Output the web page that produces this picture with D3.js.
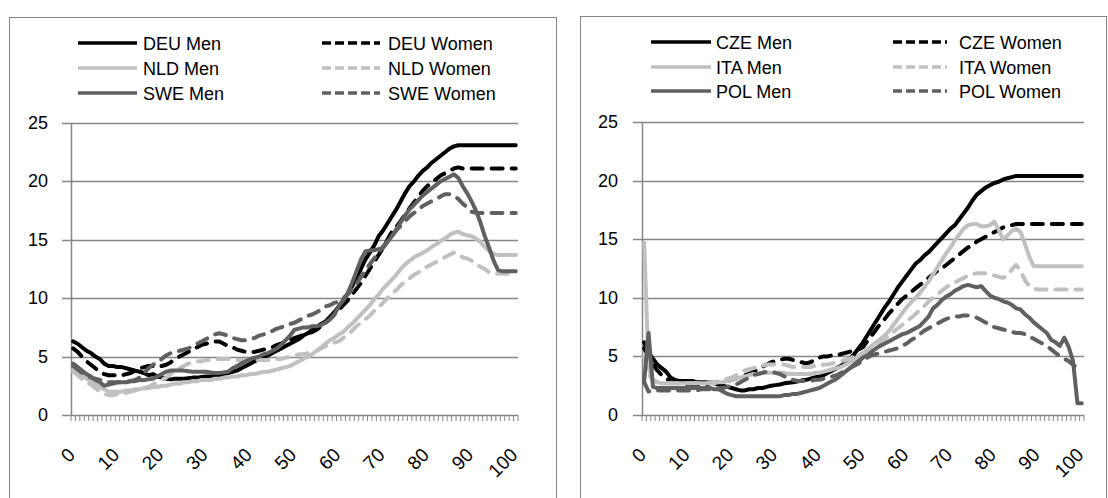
<!DOCTYPE html>
<html>
<head>
<meta charset="utf-8">
<script src="https://cdn.jsdelivr.net/npm/d3@7/dist/d3.min.js"></script>
<style>
  html, body { margin: 0; padding: 0; background: #fff; }
  svg { display: block; }
  text { font-family: "Liberation Sans", Arial, sans-serif; fill: #000; }
</style>
</head>
<body>
<svg id="chart" width="1108" height="498"></svg>
<script>
// Ages 0..100 on the category axis
const ages = d3.range(0, 101);
const yTicks = [0, 5, 10, 15, 20, 25];
const xTickLabels = [0, 10, 20, 30, 40, 50, 60, 70, 80, 90, 100];

// Left panel series
const deuMen = [
  6.3,6.1,5.8,5.5,5.3,5.0,4.8,4.4,4.2,4.2,
  4.1,4.1,4.0,3.9,3.8,3.7,3.6,3.4,3.5,3.3,
  3.2,3.1,3.05,3.1,3.1,3.1,3.15,3.2,3.2,3.25,
  3.3,3.3,3.35,3.4,3.5,3.6,3.7,3.8,4.0,4.2,
  4.4,4.6,4.8,5.0,5.1,5.3,5.5,5.7,5.9,6.1,
  6.3,6.5,6.8,7.0,7.3,7.5,7.8,8.0,8.4,8.8,
  9.3,9.8,10.4,11.0,11.8,12.5,13.3,13.9,14.5,15.3,
  15.8,16.4,17.0,17.6,18.3,19.0,19.6,20.0,20.5,20.9,
  21.2,21.6,21.9,22.2,22.5,22.8,23.0,23.1,23.1,23.1,
  23.1,23.1,23.1,23.1,23.1,23.1,23.1,23.1,23.1,23.1,
  23.1
];
const deuWomen = [
  5.7,5.4,5.0,4.6,4.3,4.0,3.7,3.5,3.4,3.4,
  3.4,3.4,3.5,3.6,3.8,4.0,4.1,4.2,4.2,4.1,
  4.2,4.3,4.5,4.8,5.0,5.2,5.4,5.6,5.8,6.0,
  6.1,6.2,6.3,6.3,6.1,5.9,5.8,5.6,5.5,5.4,
  5.4,5.4,5.5,5.6,5.7,5.8,6.0,6.1,6.3,6.4,
  6.6,6.7,6.9,7.0,7.1,7.3,7.6,7.9,8.2,8.6,
  9.0,9.4,9.8,10.3,10.8,11.3,11.9,12.5,13.1,13.7,
  14.3,15.0,15.7,16.1,16.6,17.2,17.7,18.2,18.7,19.2,
  19.6,19.9,20.2,20.5,20.7,20.9,21.1,21.2,21.1,21.1,
  21.1,21.1,21.1,21.1,21.1,21.1,21.1,21.1,21.1,21.1,
  21.1
];
const nldMen = [
  3.9,3.6,3.4,3.1,2.9,2.6,2.4,2.2,2.0,2.0,
  2.0,2.0,2.1,2.1,2.2,2.2,2.3,2.3,2.4,2.4,
  2.5,2.5,2.6,2.7,2.7,2.8,2.8,2.9,2.9,3.0,
  3.0,3.0,3.1,3.1,3.2,3.2,3.3,3.3,3.4,3.4,
  3.5,3.5,3.6,3.7,3.7,3.8,3.9,4.0,4.1,4.2,
  4.4,4.6,4.8,5.0,5.2,5.5,5.8,6.1,6.4,6.6,
  6.9,7.1,7.5,7.8,8.2,8.6,9.0,9.4,9.9,10.3,
  10.8,11.2,11.6,12.0,12.5,12.9,13.2,13.5,13.7,13.9,
  14.1,14.4,14.6,14.9,15.1,15.4,15.6,15.7,15.5,15.4,
  15.3,15.1,14.8,14.4,14.0,13.8,13.7,13.7,13.7,13.7,
  13.7
];
const nldWomen = [
  3.7,3.4,3.1,2.8,2.6,2.3,2.0,1.8,1.7,1.7,
  1.8,1.8,1.9,2.0,2.1,2.2,2.3,2.4,2.6,2.8,
  3.0,3.2,3.5,3.8,4.0,4.2,4.4,4.5,4.6,4.6,
  4.7,4.7,4.8,4.8,4.8,4.8,4.8,4.7,4.7,4.7,
  4.7,4.7,4.7,4.7,4.7,4.7,4.8,4.8,4.9,5.0,
  5.1,5.2,5.2,5.3,5.4,5.5,5.7,5.9,6.0,6.2,
  6.3,6.6,6.9,7.2,7.6,7.9,8.2,8.5,8.9,9.2,
  9.6,10.0,10.4,10.7,11.1,11.4,11.7,12.0,12.2,12.5,
  12.7,12.9,13.1,13.3,13.5,13.7,13.9,13.8,13.5,13.4,
  13.2,12.9,12.7,12.5,12.2,12.1,12.1,12.1,12.1,12.1,
  12.1
];
const sweMen = [
  4.4,4.1,3.8,3.5,3.3,3.0,2.8,2.5,2.6,2.7,
  2.8,2.8,2.8,2.9,2.9,3.0,3.0,3.05,3.1,3.3,
  3.5,3.7,3.8,3.8,3.8,3.8,3.75,3.7,3.7,3.7,
  3.7,3.65,3.6,3.6,3.65,3.7,4.0,4.2,4.4,4.6,
  4.8,4.9,5.0,5.2,5.3,5.5,5.7,6.0,6.4,6.8,
  7.3,7.4,7.5,7.5,7.6,7.6,7.7,7.9,8.2,8.6,
  9.3,9.8,10.4,11.3,12.3,13.3,14.0,14.1,14.1,14.2,
  14.3,14.8,15.3,15.9,16.5,17.1,17.6,18.0,18.4,18.8,
  19.1,19.4,19.7,20.0,20.2,20.4,20.6,20.3,19.6,19.0,
  18.3,17.5,16.5,15.3,14.3,13.2,12.4,12.3,12.3,12.3,
  12.3
];
const sweWomen = [
  4.2,3.9,3.6,3.4,3.2,3.1,3.0,2.9,2.8,2.8,
  2.8,2.8,2.9,2.9,3.0,3.2,3.6,4.0,4.3,4.5,
  4.8,5.1,5.3,5.4,5.5,5.6,5.7,5.9,6.1,6.3,
  6.5,6.7,6.9,7.0,6.9,6.8,6.6,6.5,6.4,6.4,
  6.5,6.6,6.8,6.9,7.1,7.2,7.4,7.5,7.7,7.8,
  7.9,8.1,8.3,8.5,8.6,8.8,9.0,9.3,9.4,9.6,
  9.7,10.0,10.3,10.7,11.2,11.8,12.4,12.9,13.4,13.9,
  14.4,14.9,15.3,15.8,16.2,16.6,17.0,17.3,17.6,17.9,
  18.1,18.3,18.5,18.7,18.9,18.9,18.8,18.5,18.1,17.8,
  17.4,17.3,17.3,17.3,17.3,17.3,17.3,17.3,17.3,17.3,
  17.3
];

// Right panel series
const czeMen = [
  6.2,5.3,4.8,4.3,4.0,3.7,3.2,3.0,2.9,2.9,
  2.9,2.9,2.8,2.8,2.8,2.8,2.7,2.6,2.5,2.4,
  2.3,2.2,2.1,2.1,2.2,2.2,2.3,2.3,2.4,2.5,
  2.55,2.6,2.7,2.75,2.8,2.85,2.95,3.0,3.1,3.2,
  3.3,3.4,3.6,3.8,4.0,4.2,4.5,4.8,5.2,5.7,
  6.2,6.8,7.4,8.0,8.6,9.2,9.7,10.3,10.9,11.4,
  11.9,12.4,12.9,13.2,13.6,13.9,14.3,14.7,15.1,15.5,
  15.9,16.2,16.7,17.2,17.7,18.3,18.8,19.1,19.4,19.6,
  19.8,19.9,20.1,20.2,20.3,20.4,20.4,20.4,20.4,20.4,
  20.4,20.4,20.4,20.4,20.4,20.4,20.4,20.4,20.4,20.4,
  20.4
];
const czeWomen = [
  5.7,5.0,4.3,3.8,3.4,3.1,2.9,2.8,2.7,2.7,
  2.6,2.6,2.6,2.6,2.6,2.7,2.8,2.8,2.9,2.9,
  3.0,3.1,3.3,3.4,3.5,3.7,3.9,4.1,4.3,4.5,
  4.6,4.7,4.8,4.8,4.7,4.6,4.5,4.4,4.5,4.7,
  4.9,5.0,5.0,5.1,5.1,5.2,5.3,5.4,5.5,5.6,
  5.8,6.3,6.8,7.3,7.8,8.2,8.7,9.1,9.5,9.9,
  10.2,10.5,10.8,11.1,11.4,11.7,12.0,12.3,12.5,12.8,
  13.1,13.4,13.7,14.0,14.3,14.5,14.8,15.0,15.2,15.4,
  15.6,15.8,16.0,16.1,16.2,16.3,16.3,16.3,16.3,16.3,
  16.3,16.3,16.3,16.3,16.3,16.3,16.3,16.3,16.3,16.3,
  16.3
];
const itaMen = [
  14.7,4.0,3.0,2.8,2.7,2.7,2.7,2.7,2.7,2.7,
  2.7,2.7,2.7,2.7,2.7,2.7,2.7,2.8,2.8,2.9,
  3.0,3.1,3.2,3.3,3.4,3.5,3.5,3.6,3.6,3.6,
  3.6,3.6,3.6,3.5,3.5,3.5,3.5,3.5,3.5,3.6,
  3.6,3.7,3.8,3.9,4.0,4.1,4.3,4.5,4.7,5.0,
  5.3,5.6,5.9,6.2,6.5,6.8,7.2,7.7,8.2,8.7,
  9.2,9.6,10.0,10.4,10.9,11.4,12.0,12.6,13.2,13.8,
  14.3,14.9,15.4,15.9,16.2,16.3,16.3,16.1,16.1,16.2,
  16.5,15.8,15.0,15.3,15.7,15.9,15.6,14.6,13.5,12.7,
  12.7,12.7,12.7,12.7,12.7,12.7,12.7,12.7,12.7,12.7,
  12.7
];
const itaWomen = [
  5.0,3.5,3.0,2.8,2.7,2.7,2.7,2.7,2.7,2.7,
  2.7,2.7,2.7,2.7,2.7,2.8,2.8,2.9,3.0,3.1,
  3.2,3.4,3.6,3.8,3.9,4.0,4.1,4.2,4.3,4.3,
  4.3,4.3,4.3,4.2,4.1,4.1,4.1,4.1,4.1,4.2,
  4.2,4.3,4.3,4.4,4.5,4.6,4.7,4.8,5.0,5.1,
  5.3,5.5,5.7,6.0,6.2,6.5,6.8,7.1,7.4,7.7,
  8.0,8.3,8.6,9.0,9.3,9.7,10.0,10.3,10.6,10.9,
  11.1,11.3,11.5,11.7,11.9,12.0,12.1,12.1,12.1,12.0,
  11.9,11.8,11.7,11.9,12.4,12.8,12.3,11.5,11.0,10.8,
  10.7,10.7,10.7,10.7,10.7,10.7,10.7,10.7,10.7,10.7,
  10.7
];
const polMen = [
  2.9,7.0,2.4,2.3,2.3,2.3,2.3,2.3,2.3,2.3,
  2.3,2.3,2.3,2.3,2.3,2.3,2.2,2.2,2.0,1.8,
  1.7,1.6,1.6,1.6,1.6,1.6,1.6,1.6,1.6,1.6,
  1.6,1.6,1.7,1.7,1.8,1.8,1.9,2.0,2.1,2.2,
  2.3,2.5,2.7,2.9,3.1,3.4,3.7,4.0,4.3,4.6,
  4.9,5.1,5.4,5.7,5.9,6.1,6.3,6.5,6.7,6.9,
  7.0,7.2,7.4,7.6,8.0,8.4,9.1,9.4,9.8,10.1,
  10.3,10.6,10.8,11.0,11.1,11.0,10.9,11.0,10.6,10.2,
  10.0,9.9,9.7,9.6,9.4,9.1,9.0,8.6,8.3,7.9,
  7.6,7.3,7.0,6.4,6.2,5.9,6.6,5.8,4.6,1.0,
  1.0
];
const polWomen = [
  2.8,2.0,2.1,2.1,2.1,2.1,2.1,2.1,2.1,2.1,
  2.1,2.1,2.1,2.2,2.2,2.2,2.2,2.3,2.3,2.4,
  2.5,2.6,2.8,3.0,3.2,3.4,3.5,3.6,3.7,3.7,
  3.6,3.5,3.3,3.1,3.0,2.9,2.9,2.9,2.9,3.0,
  3.0,3.1,3.2,3.3,3.4,3.6,3.8,4.0,4.2,4.4,
  4.7,4.9,5.1,5.2,5.3,5.4,5.5,5.6,5.7,5.9,
  6.1,6.4,6.6,6.9,7.2,7.4,7.6,7.8,8.0,8.2,
  8.3,8.4,8.4,8.5,8.5,8.4,8.3,8.1,7.9,7.7,
  7.5,7.4,7.3,7.2,7.1,7.0,7.0,6.9,6.7,6.5,
  6.3,6.1,5.9,5.6,5.3,5.0,4.8,4.6,4.3,4.0,
  3.8
];

// Line styles: black / light grey / dark grey, solid for men and dashed for women
const BLACK = "#000000", LIGHT = "#c0c0c0", DARK = "#606060";

const panels = [
  {
    frame: { x: 9.5, y: 17.5, w: 547, h: 490 },
    plot: { left: 71, right: 518, bottom: 415, top: 123 },
    labelRight: 48,
    legendCols: [{ x1: 78, x2: 137, tx: 143 }, { x1: 322, x2: 380, tx: 388 }],
    legendRows: [43, 68, 93],
    series: [
      { name: "DEU Men", values: deuMen, color: BLACK, dashed: false },
      { name: "DEU Women", values: deuWomen, color: BLACK, dashed: true },
      { name: "NLD Men", values: nldMen, color: LIGHT, dashed: false },
      { name: "NLD Women", values: nldWomen, color: LIGHT, dashed: true },
      { name: "SWE Men", values: sweMen, color: DARK, dashed: false },
      { name: "SWE Women", values: sweWomen, color: DARK, dashed: true }
    ]
  },
  {
    frame: { x: 580.5, y: 16.5, w: 526, h: 490 },
    plot: { left: 642, right: 1084, bottom: 415, top: 122 },
    labelRight: 618,
    legendCols: [{ x1: 651, x2: 711, tx: 716 }, { x1: 893, x2: 947, tx: 959 }],
    legendRows: [42, 67, 91],
    series: [
      { name: "CZE Men", values: czeMen, color: BLACK, dashed: false },
      { name: "CZE Women", values: czeWomen, color: BLACK, dashed: true },
      { name: "ITA Men", values: itaMen, color: LIGHT, dashed: false },
      { name: "ITA Women", values: itaWomen, color: LIGHT, dashed: true },
      { name: "POL Men", values: polMen, color: DARK, dashed: false },
      { name: "POL Women", values: polWomen, color: DARK, dashed: true }
    ]
  }
];

const svg = d3.select("#chart");
const GRID = "#868686";

panels.forEach(p => {
  const g = svg.append("g");

  // chart area border
  g.append("rect")
    .attr("x", p.frame.x).attr("y", p.frame.y)
    .attr("width", p.frame.w).attr("height", p.frame.h)
    .attr("fill", "#fff").attr("stroke", GRID).attr("stroke-width", 1);

  const x = d3.scaleBand().domain(ages).range([p.plot.left, p.plot.right]).paddingInner(0).paddingOuter(0);
  const cx = a => x(a) + x.bandwidth() / 2;
  const y = d3.scaleLinear().domain([0, 25]).range([p.plot.bottom, p.plot.top]);

  // horizontal gridlines with outside major ticks
  g.append("g").selectAll("line").data(yTicks).join("line")
    .attr("x1", p.plot.left - 9).attr("x2", p.plot.right)
    .attr("y1", d => Math.round(y(d)) + 0.5).attr("y2", d => Math.round(y(d)) + 0.5)
    .attr("stroke", GRID).attr("stroke-width", 1.5);

  // vertical value axis
  g.append("line")
    .attr("x1", p.plot.left + 0.5).attr("x2", p.plot.left + 0.5)
    .attr("y1", y(25)).attr("y2", y(0))
    .attr("stroke", GRID).attr("stroke-width", 1.5);

  // minor ticks at category boundaries
  const boundaries = ages.map(a => x(a)).concat([p.plot.right]);
  g.append("g").selectAll("line").data(boundaries).join("line")
    .attr("x1", d => d).attr("x2", d => d)
    .attr("y1", y(0)).attr("y2", y(0) + 6)
    .attr("stroke", GRID).attr("stroke-width", 1);

  // y tick labels
  g.append("g").selectAll("text").data(yTicks).join("text")
    .attr("x", p.labelRight).attr("y", d => y(d) + 6)
    .attr("text-anchor", "end").attr("font-size", 18)
    .text(d => d);

  // rotated category labels
  g.append("g").selectAll("text").data(xTickLabels).join("text")
    .attr("transform", d => `translate(${cx(d) + 3},456) rotate(-45)`)
    .attr("text-anchor", "end").attr("font-size", 19)
    .text(d => d);

  // series lines
  const line = d3.line().x((d, i) => cx(ages[i])).y(d => y(d));
  g.append("g").selectAll("path").data(p.series).join("path")
    .attr("d", s => line(s.values))
    .attr("fill", "none")
    .attr("stroke", s => s.color)
    .attr("stroke-width", 4)
    .attr("stroke-linejoin", "round")
    .attr("stroke-linecap", "round")
    .attr("stroke-dasharray", s => s.dashed ? "11,9" : null);

  // legend: two columns, men on the left, women on the right
  const leg = g.append("g");
  p.series.forEach((s, i) => {
    const col = p.legendCols[i % 2];
    const ry = p.legendRows[Math.floor(i / 2)];
    leg.append("line")
      .attr("x1", col.x1).attr("x2", col.x2)
      .attr("y1", ry).attr("y2", ry)
      .attr("stroke", s.color).attr("stroke-width", 3.5)
      .attr("stroke-dasharray", s.dashed ? "9,4" : null);
    leg.append("text")
      .attr("x", col.tx).attr("y", ry + 6.5)
      .attr("font-size", 18)
      .text(s.name);
  });
});
</script>
</body>
</html>
